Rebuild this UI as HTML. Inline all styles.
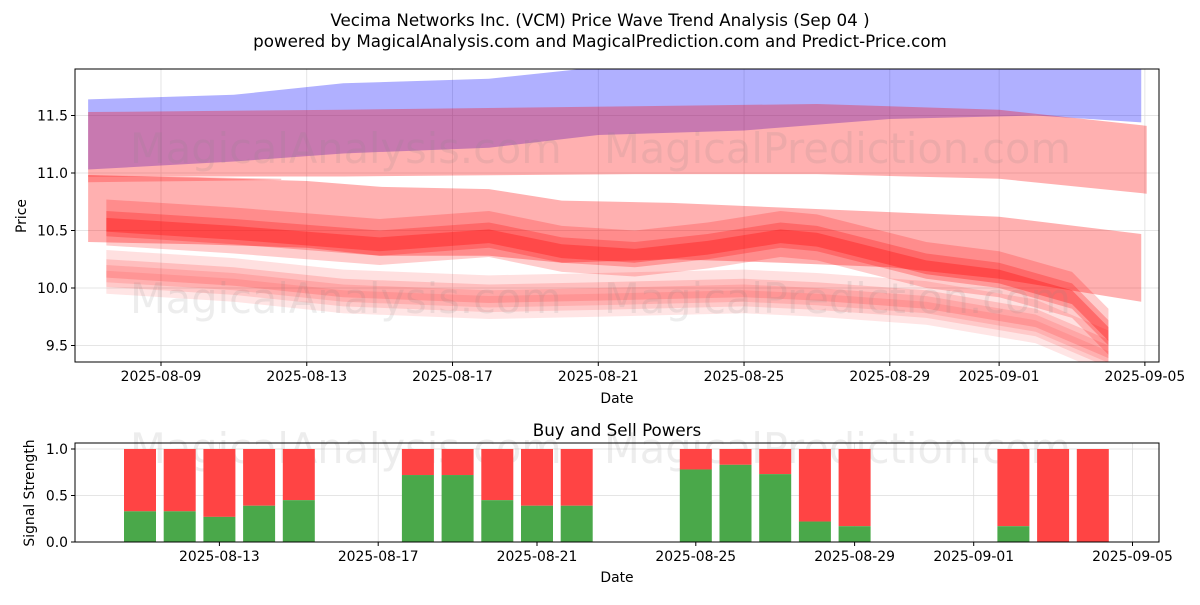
<!DOCTYPE html>
<html><head><meta charset="utf-8">
<style>
body{margin:0;background:#fff;font-family:"Liberation Sans","DejaVu Sans",sans-serif;}
svg text{font-family:"DejaVu Sans","Liberation Sans",sans-serif;}
</style></head>
<body>
<svg id="chart" width="1200" height="600" xmlns="http://www.w3.org/2000/svg">
<rect width="1200" height="600" fill="#fff"/>
<text x="600" y="26" text-anchor="middle" font-size="16.7">Vecima Networks Inc. (VCM) Price Wave Trend Analysis (Sep 04 )</text>
<text x="600" y="47" text-anchor="middle" font-size="16.7">powered by MagicalAnalysis.com and MagicalPrediction.com and Predict-Price.com</text>
<g id="topg"></g>
<g id="botg"></g>
</svg>
<script>
// ---- top chart data (days relative to 2025-08-09) ----
const priceTicks=[9.5,10.0,10.5,11.0,11.5];
const dateTicksTop=["2025-08-09","2025-08-13","2025-08-17","2025-08-21","2025-08-25","2025-08-29","2025-09-01","2025-09-05"];
const dateTickDaysTop=[0,4,8,12,16,20,23,27];
const blueDays=[-2,2,5,9,12,16,20,24,26.9];
const blueUpper=[11.64,11.68,11.78,11.82,11.92,11.95,11.95,11.95,11.9];
const blueLower=[11.03,11.1,11.17,11.22,11.33,11.37,11.47,11.5,11.44];
const pinkADays=[-2,5,13,18,23,27.05];
const pinkAUpper=[11.53,11.55,11.58,11.6,11.55,11.41];
const pinkALower=[10.97,10.97,10.99,10.99,10.95,10.82];
const pinkBDays=[-2,1,4,6,9,11,14,17,20,23,26.9];
const pinkBUpper=[10.98,10.96,10.93,10.88,10.86,10.76,10.74,10.7,10.66,10.62,10.47];
const pinkBLower=[10.4,10.38,10.35,10.28,10.28,10.22,10.25,10.22,10.18,10.08,9.88];
const midDays=[-1.5,2,6,9,11,13,15,17,18,21,23,25,26];
const midCenter=[10.55,10.48,10.38,10.45,10.32,10.28,10.35,10.45,10.42,10.18,10.1,9.92,9.6];
const lowDays=[-1.5,2,5,9,12,16,18,21,24,26];
const lowCenter=[10.15,10.08,9.98,9.93,9.95,9.98,9.95,9.88,9.72,9.45];
// ---- bottom chart data (days relative to 2025-08-11) ----
const barDays=[0,1,2,3,4,7,8,9,10,11,14,15,16,17,18,22,23,24];
const buyPower=[0.33,0.33,0.27,0.39,0.45,0.72,0.72,0.45,0.39,0.39,0.78,0.83,0.73,0.22,0.17,0.17,0,0];
const sigTicks=[0.0,0.5,1.0];
const dateTicksBot=["2025-08-13","2025-08-17","2025-08-21","2025-08-25","2025-08-29","2025-09-01","2025-09-05"];
const dateTickDaysBot=[2,6,10,14,18,21,25];

const NS="http://www.w3.org/2000/svg";
const FS=13.9;
function mk(tag,attrs,parent){const e=document.createElementNS(NS,tag);for(const k in attrs)e.setAttribute(k,attrs[k]);parent.appendChild(e);return e;}
const topG=document.getElementById('topg'),botG=document.getElementById('botg');
const L=75,R=1159,T=69,B=362;
const xT=d=>161+d*36.44, yT=v=>173-(v-11)*115;
const defs=mk('defs',{},topG);
const cp=mk('clipPath',{id:'cT'},defs);mk('rect',{x:L,y:T,width:R-L,height:B-T},cp);
priceTicks.forEach(v=>{const l=mk('line',{x1:L,x2:R,y1:yT(v),y2:yT(v),stroke:'#ddd','stroke-width':0.8},topG);

});
dateTickDaysTop.forEach(d=>{const l=mk('line',{x1:xT(d),x2:xT(d),y1:T,y2:B,stroke:'#ddd','stroke-width':0.8},topG);

});
const g=mk('g',{'clip-path':'url(#cT)'},topG);
function band(days,up,lo,fill,op,name){
 let p=days.map((d,i)=>xT(d)+','+yT(up[i]));
 p=p.concat(days.map((d,i)=>xT(d)+','+yT(lo[i])).reverse());
 const e=mk('polygon',{points:p.join(' '),fill:fill,'fill-opacity':op},g);
 
 
}
band(blueDays,blueUpper,blueLower,'#0000ff',0.31,'blue-wave-band');
band(pinkADays,pinkAUpper,pinkALower,'#ff0000',0.31,'upper-red-wave-band');
band(pinkBDays,pinkBUpper,pinkBLower,'#ff0000',0.31,'middle-red-wave-band');
band([-2,1,3.3],[10.98,10.965,10.95],[10.92,10.93,10.94],'#ff0000',0.25,'red-strip');
[[0.22,0.18,0.2],[0.12,0.1,0.25],[0.06,0.06,0.3]].forEach(([hu,hl,op])=>{
 band(midDays,midCenter.map(v=>v+hu),midCenter.map(v=>v-hl),'#ff0000',op,'central-wave-band');
});
[[0.18,0.1,0.12],[0.1,0.06,0.15],[0.05,0.14,0.12],[0.0,0.2,0.1]].forEach(([hu,hl,op])=>{
 band(lowDays,lowCenter.map(v=>v+hu),lowCenter.map(v=>v-hl),'#ff0000',op,'lower-wave-band');
});
[[130,163,'MagicalAnalysis.com'],[604,163,'MagicalPrediction.com'],[130,313,'MagicalAnalysis.com'],[604,313,'MagicalPrediction.com']].forEach(([x,y,t])=>{
 const e=mk('text',{x:x,y:y,'font-size':41.5,fill:'#888','fill-opacity':0.15},topG);e.textContent=t;
 
 
});
mk('rect',{x:L,y:T,width:R-L,height:B-T,fill:'none',stroke:'#000','stroke-width':1},topG);
priceTicks.forEach(v=>{mk('line',{x1:L-4,x2:L,y1:yT(v),y2:yT(v),stroke:'#000'},topG);
 const e=mk('text',{x:L-7,y:yT(v)+5,'text-anchor':'end','font-size':FS},topG);e.textContent=v.toFixed(1);
 
 });
dateTickDaysTop.forEach((d,i)=>{mk('line',{x1:xT(d),x2:xT(d),y1:B,y2:B+4,stroke:'#000'},topG);
 const e=mk('text',{x:xT(d),y:B+19,'text-anchor':'middle','font-size':FS},topG);e.textContent=dateTicksTop[i];
 
 });
let e=mk('text',{x:617,y:403,'text-anchor':'middle','font-size':FS},topG);e.textContent='Date';


e=mk('text',{x:26,y:216,'text-anchor':'middle','font-size':FS,transform:'rotate(-90 26 216)'},topG);e.textContent='Price';



// ---- bottom chart ----
const BL=75,BR=1159,BT=443,BB=542;
const xB=d=>140+d*39.7, yB=v=>542-v*93;
e=mk('text',{x:617,y:436,'text-anchor':'middle','font-size':16.7},botG);e.textContent='Buy and Sell Powers';


sigTicks.forEach(v=>{const l=mk('line',{x1:BL,x2:BR,y1:yB(v),y2:yB(v),stroke:'#ddd','stroke-width':0.8},botG);

});
dateTickDaysBot.forEach(d=>{const l=mk('line',{x1:xB(d),x2:xB(d),y1:BT,y2:BB,stroke:'#ddd','stroke-width':0.8},botG);

});
[[130,463,'MagicalAnalysis.com'],[604,463,'MagicalPrediction.com']].forEach(([x,y,t])=>{
 const w=mk('text',{x:x,y:y,'font-size':41.5,fill:'#888','fill-opacity':0.15},botG);w.textContent=t;
 
 });
barDays.forEach((d,i)=>{
 const x=xB(d)-16,b=buyPower[i];
 const s=mk('rect',{x:x,y:yB(1),width:32,height:yB(b)-yB(1),fill:'#ff4444'},botG);
 
 
 const r=mk('rect',{x:x,y:yB(b),width:32,height:yB(0)-yB(b),fill:'#4aa84a'},botG);
 
 
});
mk('rect',{x:BL,y:BT,width:BR-BL,height:BB-BT,fill:'none',stroke:'#000','stroke-width':1},botG);
sigTicks.forEach(v=>{mk('line',{x1:BL-4,x2:BL,y1:yB(v),y2:yB(v),stroke:'#000'},botG);
 const t=mk('text',{x:BL-7,y:yB(v)+5,'text-anchor':'end','font-size':FS},botG);t.textContent=v.toFixed(1);
 
 });
dateTickDaysBot.forEach((d,i)=>{mk('line',{x1:xB(d),x2:xB(d),y1:BB,y2:BB+4,stroke:'#000'},botG);
 const t=mk('text',{x:xB(d),y:BB+19,'text-anchor':'middle','font-size':FS},botG);t.textContent=dateTicksBot[i];
 
 });
e=mk('text',{x:617,y:582,'text-anchor':'middle','font-size':FS},botG);e.textContent='Date';


e=mk('text',{x:34,y:493,'text-anchor':'middle','font-size':FS,transform:'rotate(-90 34 493)'},botG);e.textContent='Signal Strength';


</script>
</body></html>
